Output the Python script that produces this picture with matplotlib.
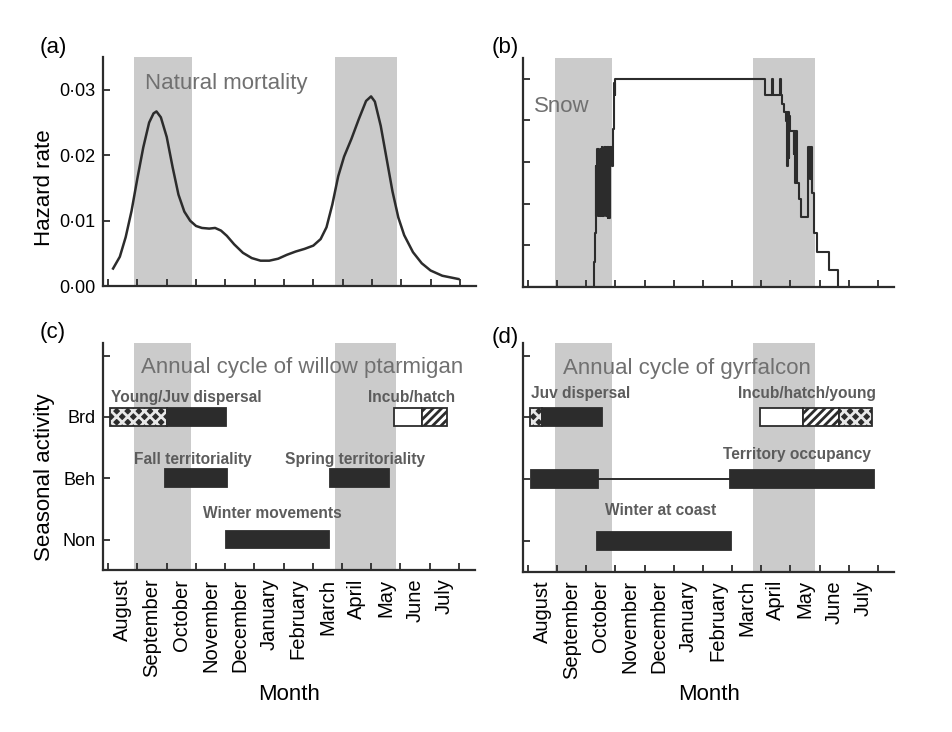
import matplotlib
matplotlib.use("Agg")
import matplotlib.pyplot as plt
import numpy as np

plt.rcParams['font.family'] = ['Liberation Sans', 'DejaVu Sans']
plt.rcParams['hatch.linewidth'] = 2.0

# ---------------- data ----------------
months = ["August", "September", "October", "November", "December", "January",
          "February", "March", "April", "May", "June", "July"]

# shaded periods (months from 1 August)
shade_a = [(0.9, 2.85), (7.75, 9.85)]
shade_b = [(0.92, 2.87), (7.71, 9.83)]

# (a) natural mortality hazard curve
mort_x = [0.17, 0.4, 0.6, 0.8, 1.0, 1.2, 1.4, 1.55, 1.65, 1.8, 2.0, 2.2, 2.4, 2.6,
          2.8, 3.0, 3.2, 3.45, 3.65, 3.85, 4.05, 4.3, 4.6, 4.9, 5.2, 5.5, 5.8,
          6.1, 6.4, 6.7, 7.0, 7.25, 7.45, 7.65, 7.85, 8.05, 8.3, 8.55, 8.8,
          8.97, 9.1, 9.3, 9.5, 9.7, 9.9, 10.1, 10.4, 10.7, 11.0, 11.4, 11.95]
mort_y = [0.0027, 0.0045, 0.0075, 0.0115, 0.0165, 0.0212, 0.0250, 0.0264, 0.0267,
          0.0258, 0.0228, 0.0182, 0.0140, 0.0114, 0.0100, 0.0092, 0.0089, 0.0088,
          0.0089, 0.0085, 0.0077, 0.0064, 0.0051, 0.0043, 0.0039, 0.0039, 0.0042,
          0.0048, 0.0053, 0.0057, 0.0062, 0.0072, 0.0090, 0.0125, 0.0168, 0.0198,
          0.0225, 0.0255, 0.0283, 0.0290, 0.0282, 0.0245, 0.0195, 0.0145, 0.0105,
          0.0078, 0.0052, 0.0035, 0.0024, 0.0016, 0.0011]
hazard_ticks = [0.00, 0.01, 0.02, 0.03]
hazard_labels = ["0·00", "0·01", "0·02", "0·03"]

# (b) snow (step series)
snow_x = [0.0, 2.26, 2.29, 2.33, 2.35, 2.37, 2.39, 2.41, 2.43, 2.45, 2.47, 2.49,
          2.51, 2.53, 2.55, 2.57, 2.59, 2.61, 2.63, 2.65, 2.67, 2.70, 2.73, 2.76,
          2.79, 2.83, 2.87, 2.92, 2.95, 2.97, 3.0, 8.12, 8.38, 8.41, 8.64, 8.67,
          8.72, 8.78, 8.84, 8.88, 8.90, 8.92, 8.94, 8.96, 9.0, 9.12, 9.14, 9.16,
          9.18, 9.22, 9.3, 9.36, 9.62, 9.66, 9.70, 9.74, 9.82, 9.90, 10.31, 10.63]
snow_y = [0.0, 0.6, 1.3, 2.9, 1.7, 3.3, 2.0, 3.3, 1.7, 2.9, 1.7, 3.3,
          2.2, 3.35, 1.7, 3.0, 1.7, 3.35, 2.4, 3.35, 1.7, 3.35, 1.66, 3.35,
          1.66, 3.35, 2.9, 3.8, 4.9, 4.6, 5.0, 4.6, 5.0, 4.6, 5.0, 4.6,
          4.4, 4.2, 3.98, 4.2, 2.9, 4.2, 3.1, 4.1, 3.74, 3.2, 3.74, 2.5,
          3.74, 2.5, 2.1, 1.69, 3.35, 2.6, 3.35, 2.26, 1.3, 0.84, 0.41, 0.0]

# (c) willow ptarmigan: (start, end, row, style)
act_levels = [1, 2, 3, 4]
act_labels = ["Non", "Beh", "Brd", ""]
ptarm_bars = [(0.07, 2.0, 3, "dots"), (2.0, 4.02, 3, "solid"),
              (9.79, 10.72, 3, "open"), (10.72, 11.6, 3, "hatch"),
              (1.93, 4.06, 2, "solid"), (7.58, 9.6, 2, "solid"),
              (4.02, 7.57, 1, "solid")]
ptarm_text = [("Annual cycle of willow ptarmigan", 1.11, 3.71, "title"),
              ("Young/Juv dispersal", 0.09, 3.24, "note"),
              ("Incub/hatch", 8.88, 3.24, "note"),
              ("Fall territoriality", 0.87, 2.24, "note"),
              ("Spring territoriality", 6.04, 2.24, "note"),
              ("Winter movements", 3.24, 1.35, "note")]

# (d) gyrfalcon
gyr_bars = [(0.07, 0.5, 3, "dots"), (0.5, 2.53, 3, "solid"),
            (7.95, 9.43, 3, "open"), (9.43, 10.68, 3, "hatch"), (10.68, 11.79, 3, "dots"),
            (0.1, 2.41, 2, "solid"), (6.93, 11.88, 2, "solid"),
            (2.38, 6.96, 1, "solid")]
gyr_link = (2.41, 6.93, 2)
gyr_text = [("Annual cycle of gyrfalcon", 1.19, 3.71, "title"),
            ("Juv dispersal", 0.1, 3.31, "note"),
            ("Incub/hatch/young", 7.2, 3.31, "note"),
            ("Territory occupancy", 6.69, 2.32, "note"),
            ("Winter at coast", 2.66, 1.42, "note")]

# ---------------- styling ----------------
DARK = "#2c2c2c"
SHADE = "#cbcbcb"
TITLE_C = "#707070"
NOTE_C = "#5c5c5c"
W, H = 952, 732

fig = plt.figure(figsize=(W / 100, H / 100), dpi=100)
fig.patch.set_facecolor("white")

ax_a = fig.add_axes([0.108, 0.609, 0.392, 0.313])
ax_b = fig.add_axes([0.549, 0.608, 0.390, 0.313])
ax_c = fig.add_axes([0.108, 0.221, 0.391, 0.310])
ax_d = fig.add_axes([0.549, 0.219, 0.390, 0.312])


def style(ax, shades, month_labels):
    for s in ["top", "right"]:
        ax.spines[s].set_visible(False)
    for s in ["left", "bottom"]:
        ax.spines[s].set_linewidth(1.6)
        ax.spines[s].set_color(DARK)
    ax.set_xlim(-0.18, 12.55)
    for a, b in shades:
        ax.axvspan(a, b, color=SHADE, lw=0, zorder=0)
    ax.set_xticks(np.arange(0, 13))
    ax.set_xticklabels([])
    ax.tick_params(axis="both", which="major", direction="in", length=5,
                   width=1.3, color=DARK, labelsize=13, pad=5)
    if month_labels:
        ax.set_xticks(np.arange(12) + 0.5, minor=True)
        ax.set_xticklabels(months, minor=True, rotation=90, fontsize=14.5)
        ax.tick_params(axis="x", which="minor", length=0, pad=6)


style(ax_a, shade_a, False)
style(ax_b, shade_b, False)
style(ax_c, shade_a, True)
style(ax_d, shade_b, True)

# (a)
ax_a.plot(mort_x, mort_y, color=DARK, lw=1.8, zorder=3)
ax_a.set_ylim(0, 0.035)
ax_a.set_yticks(hazard_ticks)
ax_a.set_yticklabels(hazard_labels, fontsize=13)
ax_a.text(1.25, 0.0301, "Natural mortality", fontsize=16, color=TITLE_C, va="baseline")

# (b)
ax_b.plot(snow_x, snow_y, drawstyle="steps-post", color=DARK, lw=1.5, zorder=3)
ax_b.set_ylim(0, 5.5)
ax_b.set_yticks(np.arange(0, 6))
ax_b.set_yticklabels([])
ax_b.text(0.2, 4.19, "Snow", fontsize=16, color=TITLE_C, va="baseline")

BAR_H = 0.29


def draw_bars(ax, bars):
    for start, end, row, st in bars:
        if st == "dots":
            # dark field with small light openings, then a dark outline
            ax.barh(row, end - start, height=BAR_H, left=start, color=DARK,
                    edgecolor="#e8e8e8", hatch="xxx", linewidth=0, zorder=3)
            ax.barh(row, end - start, height=BAR_H, left=start, fill=False,
                    edgecolor=DARK, linewidth=1.3, zorder=3.5)
            continue
        kw = dict(height=BAR_H, left=start, edgecolor=DARK, linewidth=1.3, zorder=3)
        if st == "solid":
            ax.barh(row, end - start, color=DARK, **kw)
        elif st == "open":
            ax.barh(row, end - start, color="white", **kw)
        elif st == "hatch":
            ax.barh(row, end - start, color="white", hatch="////", **kw)


def draw_text(ax, items):
    for txt, x, y, kind in items:
        if kind == "title":
            ax.text(x, y, txt, fontsize=16, color=TITLE_C, va="baseline", zorder=4)
        else:
            ax.text(x, y, txt, fontsize=11.2, fontweight="bold", color=NOTE_C,
                    va="baseline", zorder=4)


for ax in (ax_c, ax_d):
    ax.set_ylim(0.5, 4.2)
    ax.set_yticks(act_levels)

ax_c.set_yticklabels(act_labels, fontsize=13)
ax_d.set_yticklabels([])

draw_bars(ax_c, ptarm_bars)
draw_text(ax_c, ptarm_text)

ax_d.plot([gyr_link[0], gyr_link[1]], [gyr_link[2], gyr_link[2]], color=DARK, lw=1.4, zorder=2)
draw_bars(ax_d, gyr_bars)
draw_text(ax_d, gyr_text)

# axis titles and panel letters
fig.text(45 / W, 1 - 188 / H, "Hazard rate", rotation=90, ha="center", va="center", fontsize=16)
fig.text(45 / W, 1 - 477 / H, "Seasonal activity", rotation=90, ha="center", va="center", fontsize=16)
fig.text(289 / W, 1 - 694 / H, "Month", ha="center", va="center", fontsize=16)
fig.text(709 / W, 1 - 694 / H, "Month", ha="center", va="center", fontsize=16)
for lbl, px, py in [("(a)", 40, 47), ("(b)", 492, 47), ("(c)", 40, 332), ("(d)", 492, 338)]:
    fig.text(px / W, 1 - py / H, lbl, ha="left", va="center", fontsize=16)

fig.savefig("out.png", dpi=100, facecolor="white")
